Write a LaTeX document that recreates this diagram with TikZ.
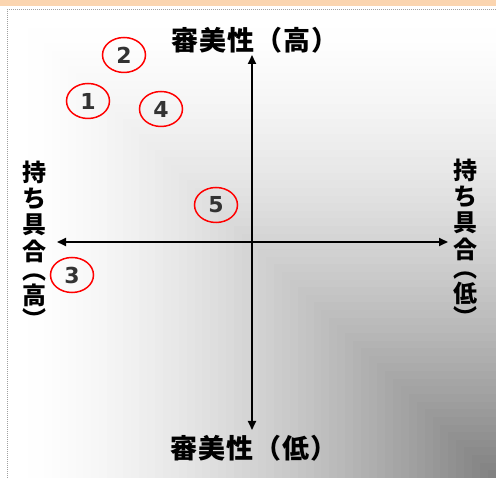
\documentclass[tikz,border=0pt]{standalone}
\usepackage{fontspec}
\usepackage{xcolor}
\usepackage{tikz}
\usetikzlibrary{shapes.geometric,arrows.meta}
\newfontfamily\jpfont{Noto Sans CJK JP}
\newfontfamily\jpwide{Noto Sans CJK JP}[LetterSpace=4]
\newfontfamily\numfont{DejaVu Sans}
\newcommand\vtext[1]{\vbox{\offinterlineskip\halign{\hfil##\hfil\cr#1\crcr}}}
\newcommand\vchar[1]{\vbox to 26.5pt{\vss\hbox{#1}\vss}}
\newcommand\vopen{\vbox to 17pt{\vss\hbox{︵}\kern0pt}}
\newcommand\vclose{\vbox to 17pt{\hbox{︶}\vss}}
\definecolor{c_band}{RGB}{251,213,176}
\definecolor{c_frame}{RGB}{160,160,160}
\definecolor{c_num}{RGB}{51,51,51}
\tikzset{c-ellipse/.style={ellipse, draw=red, line width=1.5pt, minimum width=43pt, minimum height=35pt, inner sep=0pt, text=c_num, font=\numfont\bfseries\fontsize{22}{22}\selectfont},
c-label/.style={inner sep=0pt, font=\jpwide\bfseries\fontsize{27}{27}\selectfont},
c-vlabel/.style={inner sep=0pt, font=\jpfont\bfseries\fontsize{24}{24}\selectfont},
arrow/.style={line width=2pt,<->,>={Triangle[length=9pt,width=8pt]}}}

\begin{document}
\begin{tikzpicture}[x=1pt, y=-1pt]
\useasboundingbox (0,0) rectangle (496,478);
% frame and shaded background
\fill[c_band] (0,0) rectangle (496,6);
\foreach \i in {60,59,...,1} {
  \pgfmathsetmacro\pos{(\i-0.5)/60}
  \pgfmathsetmacro\lvl{(128+127*(1-(1-\pos)^1.5))/255}
  \definecolor{c_shade}{gray}{\lvl}
  \fill[c_shade] ({496-\i/60*476},{478-\i/60*458}) rectangle (496,478);
}
\draw[c_frame, densely dotted, line width=1pt] (496,10) -- (7,10) -- (7,478);
% axes
\coordinate (tipN) at (252,55);
\coordinate (tipS) at (252,430);
\coordinate (tipW) at (57,242);
\coordinate (tipE) at (448,242);
\draw [arrow] (tipS) -- (tipN);
\draw [arrow] (tipW) -- (tipE);
% axis labels
\node (hi) [c-label] at (255,40) {審美性（高）};
\node (lo) [c-label] at (254,448) {審美性（低）};
\node (grip-hi) [c-vlabel] at (34,242) {\vtext{\vchar{持}\cr\vchar{ち}\cr\vchar{具}\cr\vchar{合}\cr\vopen\cr\vchar{高}\cr\vclose}};
\node (grip-lo) [c-vlabel] at (465,240) {\vtext{\vchar{持}\cr\vchar{ち}\cr\vchar{具}\cr\vchar{合}\cr\vopen\cr\vchar{低}\cr\vclose}};
% items
\node (p1) [c-ellipse] at (88,101) {1};
\node (p2) [c-ellipse] at (124,55) {2};
\node (p3) [c-ellipse] at (72,275) {3};
\node (p4) [c-ellipse] at (161,109) {4};
\node (p5) [c-ellipse] at (216,205) {5};
\end{tikzpicture}
\end{document}
